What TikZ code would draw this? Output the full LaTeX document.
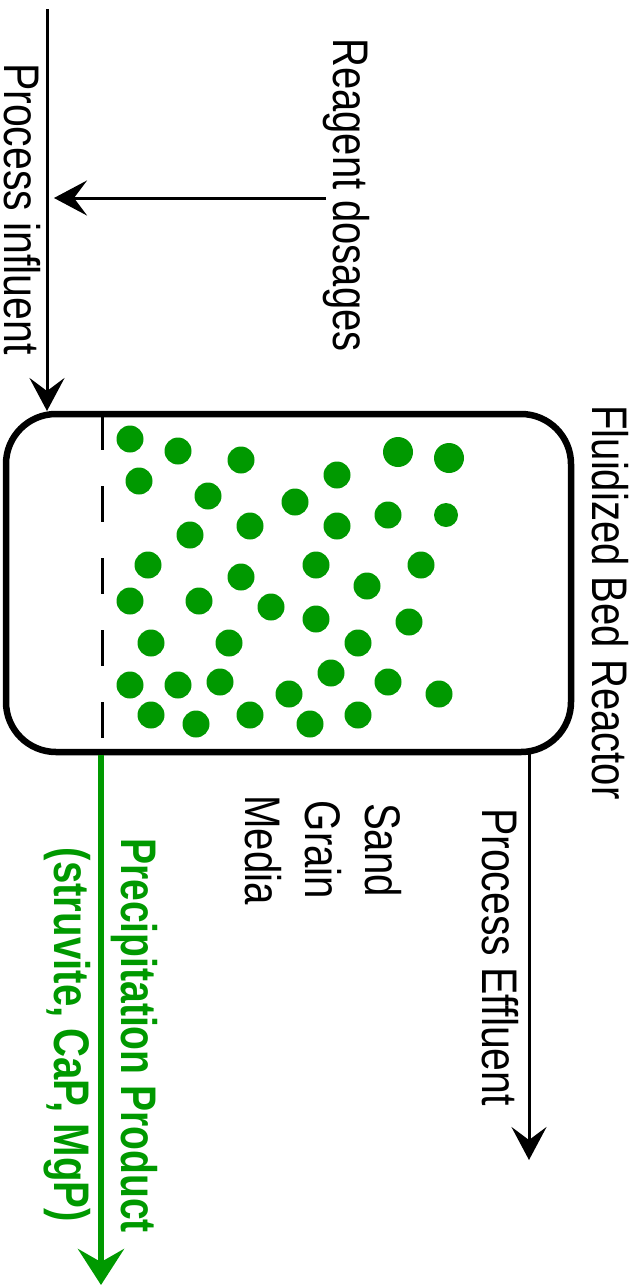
\documentclass[tikz,border=0pt]{standalone}
\usepackage{fontspec}
\setmainfont[FakeStretch=0.82]{Liberation Sans}
\usetikzlibrary{arrows.meta, positioning}
\definecolor{grainGreen}{HTML}{009900}

\begin{document}
\begin{tikzpicture}[
        x=1pt, y=-1pt,
        label/.style={rotate=-90, anchor=base, inner sep=0pt, font=\fontsize{50}{60}\selectfont},
        boldlabel/.style={label, text=grainGreen, font=\fontsize{50}{60}\selectfont\bfseries},
        grain/.style={circle, fill=grainGreen, inner sep=0pt},
        flow/.style={line width=3pt, -{Stealth[length=33pt, width=35pt, inset=13pt]}},
        product/.style={line width=6pt, draw=grainGreen, -{Stealth[length=36pt, width=46pt, inset=13pt, fill=grainGreen]}}
    ]
    \useasboundingbox (0,0) rectangle (643,1285);

    % Reactor vessel
    \node (reactor) [draw, line width=6.5pt, rounded corners=50pt, inner sep=0pt, outer sep=0pt,
        minimum width=565pt, minimum height=338pt] at (288.5,583) {};
    \coordinate (sandTop) at (102,414);
    \coordinate (sandBottom) at (102,738);
    \draw[line width=3pt, dash pattern=on 36pt off 36pt] (sandTop) -- (sandBottom);

    % Media grains
    \foreach \x/\y [count=\i] in {130/439, 178/451, 241/460, 139/481, 208/496, 190/535, 250/526, 295/502,
        337/475, 337/526, 148/565, 130/601, 199/601, 241/577, 271/607, 316/565, 316/619, 151/643, 229/643,
        130/685, 178/685, 220/682, 151/715, 196/724, 250/715, 289/694, 310/724, 331/673, 358/643, 358/715,
        367/586, 388/515, 388/682, 409/622, 421/565}
        \node[grain, minimum size=27pt] (g\i) at (\x,\y) {};
    \node[grain, minimum size=30pt] (g36) at (398,452) {};
    \node[grain, minimum size=30pt] (g37) at (449,458) {};
    \node[grain, minimum size=24pt] (g38) at (446,515) {};
    \node[grain, minimum size=27pt] (g39) at (439,694) {};

    % Labels
    \node[label] (influent) at (5,209) {Process influent};
    \node[label, xscale=0.975] (reagent) at (333,195) {Reagent dosages};
    \node[label, xscale=0.977] (bed) at (592,602.5) {Fluidized Bed Reactor};
    \node[label, anchor=center, align=center, xscale=0.98] (media) at (323,850) {Sand\\Grain\\Media};
    \node[label] (effluent) at (482,957) {Process Effluent};
    \node[boldlabel, xscale=0.952] (precip) at (121,1035.5) {Precipitation Product};
    \node[boldlabel, xscale=0.98] (struvite) at (54,1035) {(struvite, CaP, MgP)};

    % Flows
    \coordinate (influentStart) at (47,9);
    \coordinate (influentEnd) at (47,411);
    \coordinate (reagentStart) at (326,198);
    \coordinate (reagentEnd) at (54,198);
    \coordinate (effluentEnd) at (529,1160);
    \coordinate (productEnd) at (101,1285);
    \draw[flow] (influentStart) -- (influentEnd);
    \draw[flow] (reagentStart) -- (reagentEnd);
    \draw[flow] (reactor.south -| effluentEnd) -- (effluentEnd);
    \draw[product] (reactor.south -| productEnd) ++(0,3) -- (productEnd);

\end{tikzpicture}
\end{document}
